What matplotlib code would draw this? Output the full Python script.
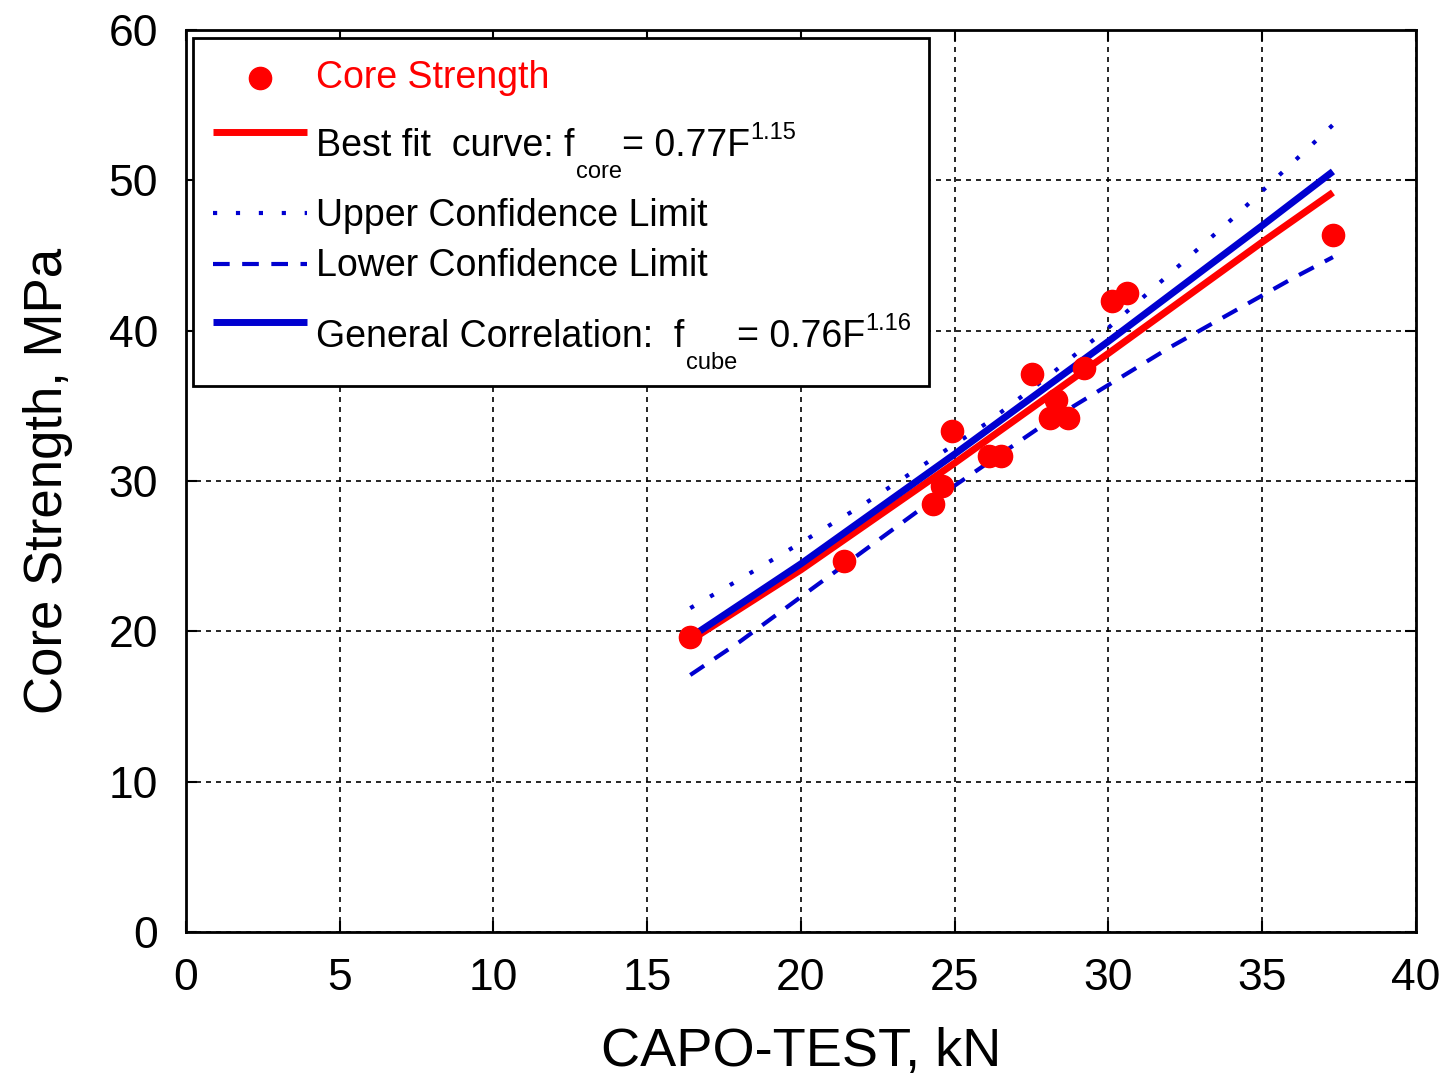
import matplotlib.pyplot as plt
from matplotlib.patches import Rectangle

plt.rcParams['font.family'] = ['Liberation Sans', 'DejaVu Sans']

# mesures (CAPO-TEST, kN / résistance carotte, MPa)
capo = [16.4, 21.4, 24.3, 24.6, 24.9, 26.1, 26.5, 27.5, 28.1, 28.3, 28.7, 29.2, 30.1, 30.6, 37.3]
core = [19.6, 24.7, 28.5, 29.7, 33.3, 31.7, 31.7, 37.1, 34.2, 35.4, 34.2, 37.5, 42.0, 42.5, 46.4]

# courbes
fit_x = [16.4, 20, 25, 30, 35, 37.3]
best_fit = [19.4, 24.1, 31.2, 38.5, 45.9, 49.2]
general = [19.6, 24.5, 31.8, 39.3, 47.0, 50.6]

band_x = [16.4, 18, 20, 22, 24, 26, 28, 30, 32, 34, 36, 37.3]
upper = [21.55, 23.45, 25.9, 28.4, 31.1, 33.8, 36.9, 40.2, 43.8, 47.4, 51.2, 53.7]
lower = [17.1, 19.3, 22.3, 25.3, 28.3, 31.1, 33.9, 36.4, 38.9, 41.2, 43.5, 44.9]

red = '#ff0000'
blue = '#0000d0'
dotted = (0, (1, 4.5))
dashed = (0, (4, 3))

fig = plt.figure(figsize=(14.53, 10.77), dpi=100)
ax = fig.add_axes([0.128, 0.1346, 0.8465, 0.8374])

ax.plot(band_x, upper, color=blue, lw=3, linestyle=dotted)
ax.plot(band_x, lower, color=blue, lw=3, linestyle=dashed)
ax.plot(fit_x, best_fit, color=red, lw=5, solid_capstyle='butt')
ax.plot(fit_x, general, color=blue, lw=5, solid_capstyle='butt')
ax.plot(capo, core, 'o', color=red, markersize=16, zorder=5)

ax.set_xlim(0, 40)
ax.set_ylim(0, 60)
ax.set_xticks(range(0, 41, 5))
ax.set_yticks(range(0, 61, 10))
ax.tick_params(direction='in', length=8, width=1.5, top=True, right=True, labelsize=32)
ax.tick_params(axis='x', pad=19)
ax.tick_params(axis='y', pad=20)
for s in ax.spines.values():
    s.set_linewidth(2)

ax.grid(True, color='black', linestyle=(0, (3, 3)), linewidth=1.2)

ax.set_xlabel('CAPO-TEST, kN', fontsize=39, labelpad=20)
ax.set_ylabel('Core Strength, MPa', fontsize=38, labelpad=26)

# légende dessinée à la main (boîte + symboles + textes)
ax.add_patch(Rectangle((0.0057, 0.605), 0.598, 0.386, transform=ax.transAxes,
                       facecolor='white', edgecolor='black', lw=2, zorder=10))

fs = 27
small = 17
hx = [0.022, 0.098]
tx = 0.1057
kw = dict(transform=ax.transAxes, zorder=11, clip_on=False)

# symboles
ax.plot([sum(hx) / 2], [0.947], 'o', color=red, markersize=16, **kw)
ax.plot(hx, [0.887] * 2, color=red, lw=5, solid_capstyle='butt', **kw)
ax.plot(hx, [0.797] * 2, color=blue, lw=3, linestyle=dotted, **kw)
ax.plot(hx, [0.741] * 2, color=blue, lw=3, linestyle=dashed, **kw)
ax.plot(hx, [0.676] * 2, color=blue, lw=5, solid_capstyle='butt', **kw)

ax.text(tx, 0.947, 'Core Strength', color=red, fontsize=fs, va='center', **kw)
ax.text(tx, 0.794, 'Upper Confidence Limit', fontsize=fs, va='center', **kw)
ax.text(tx, 0.738, 'Lower Confidence Limit', fontsize=fs, va='center', **kw)


def formula(y, start, sub, mid, sup):
    t1 = ax.text(tx, y, start, fontsize=fs, va='baseline', **kw)
    t2 = ax.annotate(sub, xy=(1, 0), xycoords=t1, xytext=(1, -10), textcoords='offset points',
                     fontsize=small, va='baseline', zorder=11)
    t3 = ax.annotate(mid, xy=(1, 0), xycoords=(t2, t1), xytext=(0, 0), textcoords='offset points',
                     fontsize=fs, va='bottom', zorder=11)
    ax.annotate(sup, xy=(1, 0), xycoords=t3, xytext=(0, 18), textcoords='offset points',
                fontsize=small, va='baseline', zorder=11)


formula(0.860, 'Best fit  curve: f', 'core', '= 0.77F', '1.15')
formula(0.649, 'General Correlation:  f', 'cube', '= 0.76F', '1.16')

fig.savefig('out.png', dpi=100)
